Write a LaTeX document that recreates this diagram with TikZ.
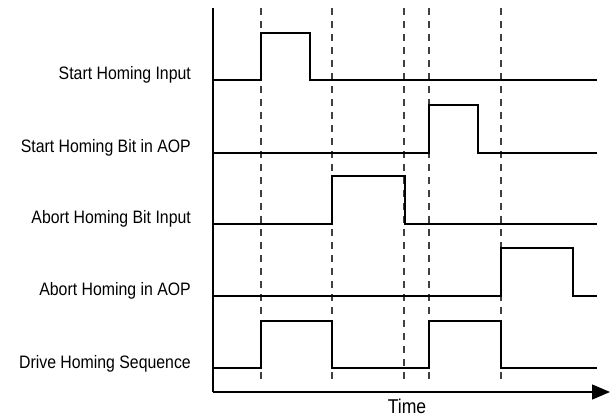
\documentclass[tikz,border=0pt]{standalone}
\usepackage{fontspec}
\setmainfont{Liberation Sans}[FakeStretch=0.88]
\usetikzlibrary{arrows.meta,positioning}

\begin{document}
\begin{tikzpicture}[x=1pt,y=-1pt,
     signal/.style = {draw, line width=1.3pt},
     marker/.style = {draw, black!75, line width=1.1pt, dash pattern=on 7pt off 6pt},
     axis/.style = {draw, line width=1.3pt},
     label/.style = {anchor=base east, inner sep=0pt, font=\fontsize{18}{20}\selectfont},
     timelabel/.style = {anchor=base, inner sep=0pt, font=\fontsize{20}{22}\selectfont}
    ]
    \useasboundingbox (0,0) rectangle (610,419);
    % time markers
    \foreach \t in {261,332,404,429,501}
      \draw[marker] (\t,8) -- (\t,384);

    % axes
    \coordinate (origin) at (213,392);
    \coordinate (ytop) at (213,8);
    \coordinate (xend) at (610,392);
    \draw[axis] (ytop) -- (origin);
    \draw[axis, -{Triangle[length=18pt,width=15pt]}] (origin) -- (xend);
    \node [timelabel] (time) at (407,413) {Time};

    % signal names
    \node [label] (shinput) at (191,80) {Start Homing Input};
    \node [label] (shaop) at (191,153) {Start Homing Bit in AOP};
    \node [label] (ahinput) at (191,224) {Abort Homing Bit Input};
    \node [label] (ahaop) at (191,296) {Abort Homing in AOP};
    \node [label] (drive) at (191,368) {Drive Homing Sequence};

    % waveforms
    \draw[signal] (213,80) -- (261,80) -- (261,33) -- (310,33) -- (310,80) -- (597,80);
    \draw[signal] (213,153) -- (429,153) -- (429,105) -- (478,105) -- (478,153) -- (597,153);
    \draw[signal] (213,224) -- (332,224) -- (332,176) -- (405,176) -- (405,224) -- (597,224);
    \draw[signal] (213,296) -- (501,296) -- (501,248) -- (573,248) -- (573,296) -- (597,296);
    \draw[signal] (213,368) -- (261,368) -- (261,321) -- (332,321) -- (332,368)
                  -- (429,368) -- (429,321) -- (501,321) -- (501,368) -- (597,368);
\end{tikzpicture}
\end{document}
